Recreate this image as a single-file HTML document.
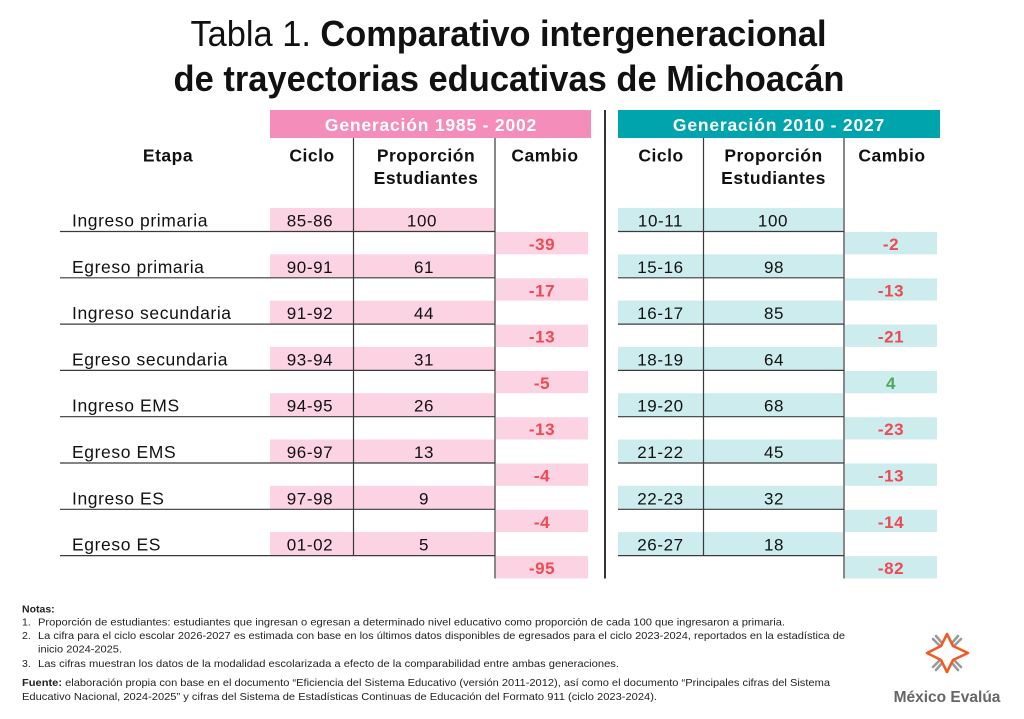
<!DOCTYPE html>
<html>
<head>
<meta charset="utf-8">
<style>
html,body{margin:0;padding:0;background:#fff;}
svg{display:block;}
text{font-family:"Liberation Sans",sans-serif;}
</style>
</head>
<body>
<svg width="1024" height="719" viewBox="0 0 1024 719" xmlns="http://www.w3.org/2000/svg">
<rect width="1024" height="719" fill="#fff"/>

<!-- Title -->
<text x="508.5" y="46" text-anchor="middle" font-size="36" fill="#111" textLength="636" lengthAdjust="spacingAndGlyphs">Tabla 1. <tspan font-weight="bold">Comparativo intergeneracional</tspan></text>
<text x="509" y="91" text-anchor="middle" font-size="36" font-weight="bold" fill="#111" textLength="671" lengthAdjust="spacingAndGlyphs">de trayectorias educativas de Michoacán</text>

<!-- Generation headers -->
<rect x="270" y="110" width="321" height="28" fill="#f48dba"/>
<text x="431" y="131" text-anchor="middle" font-size="17.5" font-weight="bold" fill="#fff" letter-spacing="0.8">Generación 1985 - 2002</text>
<rect x="618" y="110" width="322" height="28" fill="#00a4ac"/>
<text x="779" y="131" text-anchor="middle" font-size="17.5" font-weight="bold" fill="#fff" letter-spacing="0.8">Generación 2010 - 2027</text>

<!-- Column headers -->
<g font-size="17.5" font-weight="bold" fill="#111" text-anchor="middle" letter-spacing="0.5">
<text x="168" y="161.5">Etapa</text>
<text x="312" y="161.5">Ciclo</text>
<text x="426" y="161.5">Proporción</text>
<text x="426" y="184">Estudiantes</text>
<text x="545" y="161.5">Cambio</text>
<text x="661" y="161.5">Ciclo</text>
<text x="773.5" y="161.5">Proporción</text>
<text x="773.5" y="184">Estudiantes</text>
<text x="892" y="161.5">Cambio</text>
</g>

<!-- Pink cells -->
<g fill="#fbd3e3">
<rect x="270" y="208" width="225" height="23"/>
<rect x="270" y="254.3" width="225" height="23"/>
<rect x="270" y="300.6" width="225" height="23"/>
<rect x="270" y="346.9" width="225" height="23"/>
<rect x="270" y="393.2" width="225" height="23"/>
<rect x="270" y="439.5" width="225" height="23"/>
<rect x="270" y="485.8" width="225" height="23"/>
<rect x="270" y="532.1" width="225" height="23"/>
<rect x="496" y="232" width="92" height="22.3"/>
<rect x="496" y="278.3" width="92" height="22.3"/>
<rect x="496" y="324.6" width="92" height="22.3"/>
<rect x="496" y="370.9" width="92" height="22.3"/>
<rect x="496" y="417.2" width="92" height="22.3"/>
<rect x="496" y="463.5" width="92" height="22.3"/>
<rect x="496" y="509.8" width="92" height="22.3"/>
<rect x="496" y="556.1" width="92" height="22.3"/>
</g>
<!-- Teal cells -->
<g fill="#cdecee">
<rect x="618" y="208" width="225" height="23"/>
<rect x="618" y="254.3" width="225" height="23"/>
<rect x="618" y="300.6" width="225" height="23"/>
<rect x="618" y="346.9" width="225" height="23"/>
<rect x="618" y="393.2" width="225" height="23"/>
<rect x="618" y="439.5" width="225" height="23"/>
<rect x="618" y="485.8" width="225" height="23"/>
<rect x="618" y="532.1" width="225" height="23"/>
<rect x="845" y="232" width="92" height="22.3"/>
<rect x="845" y="278.3" width="92" height="22.3"/>
<rect x="845" y="324.6" width="92" height="22.3"/>
<rect x="845" y="370.9" width="92" height="22.3"/>
<rect x="845" y="417.2" width="92" height="22.3"/>
<rect x="845" y="463.5" width="92" height="22.3"/>
<rect x="845" y="509.8" width="92" height="22.3"/>
<rect x="845" y="556.1" width="92" height="22.3"/>
</g>

<!-- Lines -->
<g stroke="#3a3a3a" stroke-width="1.2">
<line x1="60" y1="231.5" x2="495" y2="231.5"/>
<line x1="60" y1="277.8" x2="495" y2="277.8"/>
<line x1="60" y1="324.1" x2="495" y2="324.1"/>
<line x1="60" y1="370.4" x2="495" y2="370.4"/>
<line x1="60" y1="416.7" x2="495" y2="416.7"/>
<line x1="60" y1="463" x2="495" y2="463"/>
<line x1="60" y1="509.3" x2="495" y2="509.3"/>
<line x1="60" y1="555.6" x2="495" y2="555.6"/>
<line x1="618" y1="231.5" x2="844" y2="231.5"/>
<line x1="618" y1="277.8" x2="844" y2="277.8"/>
<line x1="618" y1="324.1" x2="844" y2="324.1"/>
<line x1="618" y1="370.4" x2="844" y2="370.4"/>
<line x1="618" y1="416.7" x2="844" y2="416.7"/>
<line x1="618" y1="463" x2="844" y2="463"/>
<line x1="618" y1="509.3" x2="844" y2="509.3"/>
<line x1="618" y1="555.6" x2="844" y2="555.6"/>
<line x1="353.5" y1="138" x2="353.5" y2="556"/>
<line x1="495" y1="138" x2="495" y2="578.5"/>
<line x1="703.5" y1="138" x2="703.5" y2="556"/>
<line x1="844" y1="138" x2="844" y2="578.5"/>
</g>
<line x1="605" y1="110" x2="605" y2="578.5" stroke="#333" stroke-width="2"/>

<!-- Etapa labels -->
<g font-size="17.5" fill="#111" letter-spacing="0.6">
<text x="72" y="226.5">Ingreso primaria</text>
<text x="72" y="272.8">Egreso primaria</text>
<text x="72" y="319.1">Ingreso secundaria</text>
<text x="72" y="365.4">Egreso secundaria</text>
<text x="72" y="411.7">Ingreso EMS</text>
<text x="72" y="458">Egreso EMS</text>
<text x="72" y="504.3">Ingreso ES</text>
<text x="72" y="550.6">Egreso ES</text>
</g>

<!-- Pink values -->
<g font-size="17" fill="#111" text-anchor="middle" letter-spacing="0.6">
<text x="310" y="226.5">85-86</text>
<text x="310" y="272.8">90-91</text>
<text x="310" y="319.1">91-92</text>
<text x="310" y="365.4">93-94</text>
<text x="310" y="411.7">94-95</text>
<text x="310" y="458">96-97</text>
<text x="310" y="504.3">97-98</text>
<text x="310" y="550.6">01-02</text>
<text x="422" y="226.5">100</text>
<text x="424" y="272.8">61</text>
<text x="424" y="319.1">44</text>
<text x="424" y="365.4">31</text>
<text x="424" y="411.7">26</text>
<text x="424" y="458">13</text>
<text x="424" y="504.3">9</text>
<text x="424" y="550.6">5</text>
<text x="660.5" y="226.5">10-11</text>
<text x="660.5" y="272.8">15-16</text>
<text x="660.5" y="319.1">16-17</text>
<text x="660.5" y="365.4">18-19</text>
<text x="660.5" y="411.7">19-20</text>
<text x="660.5" y="458">21-22</text>
<text x="660.5" y="504.3">22-23</text>
<text x="660.5" y="550.6">26-27</text>
<text x="773" y="226.5">100</text>
<text x="774" y="272.8">98</text>
<text x="774" y="319.1">85</text>
<text x="774" y="365.4">64</text>
<text x="774" y="411.7">68</text>
<text x="774" y="458">45</text>
<text x="774" y="504.3">32</text>
<text x="774" y="550.6">18</text>
</g>

<!-- Cambio values -->
<g font-size="17" font-weight="bold" fill="#ee4a52" text-anchor="middle" letter-spacing="0.6">
<text x="542" y="250">-39</text>
<text x="542" y="296.3">-17</text>
<text x="542" y="342.6">-13</text>
<text x="542" y="388.9">-5</text>
<text x="542" y="435.2">-13</text>
<text x="542" y="481.5">-4</text>
<text x="542" y="527.8">-4</text>
<text x="542" y="574.1">-95</text>
<text x="891" y="250">-2</text>
<text x="891" y="296.3">-13</text>
<text x="891" y="342.6">-21</text>
<text x="891" y="388.9" fill="#4caa58">4</text>
<text x="891" y="435.2">-23</text>
<text x="891" y="481.5">-13</text>
<text x="891" y="527.8">-14</text>
<text x="891" y="574.1">-82</text>
</g>

<!-- Notes -->
<g font-size="10.5" fill="#222">
<text x="22" y="612.5" font-weight="bold">Notas:</text>
<text x="22" y="625.5">1.</text>
<text x="38" y="625.5" textLength="747" lengthAdjust="spacingAndGlyphs">Proporción de estudiantes: estudiantes que ingresan o egresan a determinado nivel educativo como proporción de cada 100 que ingresaron a primaria.</text>
<text x="22" y="639">2.</text>
<text x="38" y="639" textLength="807" lengthAdjust="spacingAndGlyphs">La cifra para el ciclo escolar 2026-2027 es estimada con base en los últimos datos disponibles de egresados para el ciclo 2023-2024, reportados en la estadística de</text>
<text x="38" y="652.5" textLength="84" lengthAdjust="spacingAndGlyphs">inicio 2024-2025.</text>
<text x="22" y="667">3.</text>
<text x="38" y="667" textLength="581" lengthAdjust="spacingAndGlyphs">Las cifras muestran los datos de la modalidad escolarizada a efecto de la comparabilidad entre ambas generaciones.</text>
<text x="22" y="686" textLength="808" lengthAdjust="spacingAndGlyphs"><tspan font-weight="bold">Fuente:</tspan> elaboración propia con base en el documento “Eficiencia del Sistema Educativo (versión 2011-2012), así como el documento “Principales cifras del Sistema</text>
<text x="22" y="700" textLength="635" lengthAdjust="spacingAndGlyphs">Educativo Nacional, 2024-2025” y cifras del Sistema de Estadísticas Continuas de Educación del Formato 911 (ciclo 2023-2024).</text>
</g>

<!-- Logo -->
<g fill="none" stroke-linecap="round" stroke-linejoin="round">
<g stroke="#9a9a9a" stroke-width="2.6">
<line x1="933" y1="639" x2="940" y2="646"/>
<line x1="936" y1="636" x2="942" y2="643"/>
<line x1="961" y1="639" x2="954" y2="646"/>
<line x1="958" y1="636" x2="952" y2="643"/>
<line x1="933" y1="667" x2="940" y2="660"/>
<line x1="936" y1="670" x2="942" y2="663"/>
<line x1="961" y1="667" x2="954" y2="660"/>
<line x1="958" y1="670" x2="952" y2="663"/>
</g>
<polyline stroke="#f15a22" stroke-width="2.6" points="941,646 947,634 953,646 968,653 953,660 947,672 941,660 927,653 941,646"/>
</g>
<text x="947" y="702" text-anchor="middle" font-size="15.5" font-weight="bold" fill="#666">México Evalúa</text>
</svg>
</body>
</html>
